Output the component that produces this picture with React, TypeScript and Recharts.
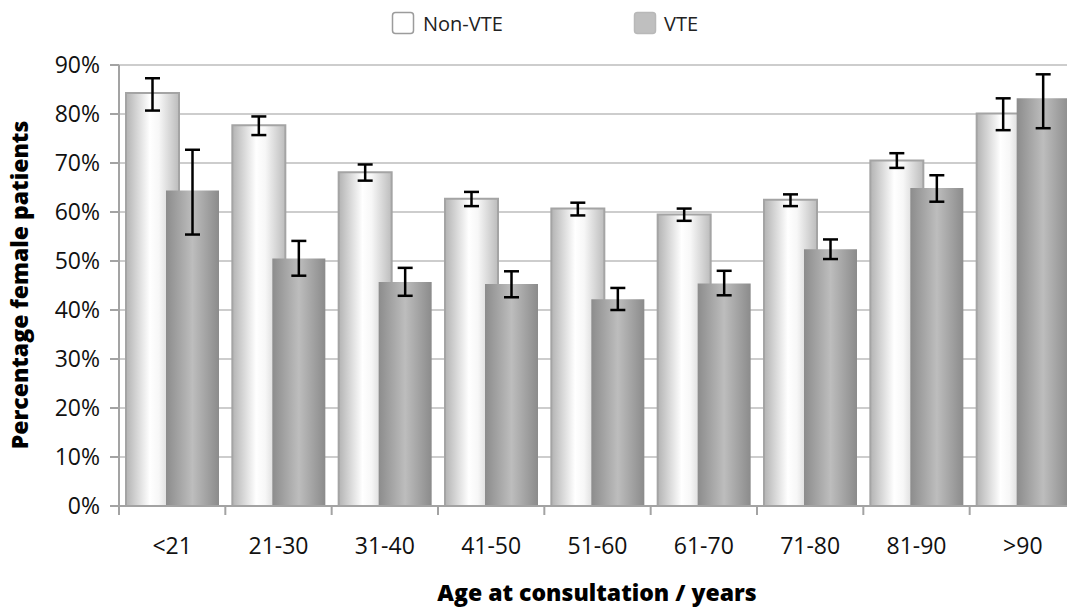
import React from 'react';
import { BarChart, Bar, XAxis, YAxis, CartesianGrid, ErrorBar } from 'recharts';

const ageGroups = ['<21', '21-30', '31-40', '41-50', '51-60', '61-70', '71-80', '81-90', '>90'];

// percentage female, with lower / upper ends of the error bars
const nonVte = [84.3, 77.7, 68.1, 62.7, 60.7, 59.5, 62.5, 70.5, 80.1];
const nonVteLow = [80.7, 75.7, 66.4, 61.2, 59.3, 58.2, 61.2, 69.0, 76.7];
const nonVteHigh = [87.3, 79.5, 69.7, 64.1, 61.9, 60.7, 63.6, 72.0, 83.2];

const vte = [64.4, 50.5, 45.7, 45.3, 42.2, 45.4, 52.4, 64.9, 83.2];
const vteLow = [55.4, 47.0, 42.9, 42.6, 40.0, 43.0, 50.4, 62.1, 77.1];
const vteHigh = [72.7, 54.1, 48.6, 47.9, 44.5, 48.0, 54.4, 67.5, 88.1];

const yTicks = [0, 10, 20, 30, 40, 50, 60, 70, 80, 90];

const data = ageGroups.map((age, i) => ({
  age,
  nonVte: nonVte[i],
  nonVteErr: [nonVte[i] - nonVteLow[i], nonVteHigh[i] - nonVte[i]],
  vte: vte[i],
  vteErr: [vte[i] - vteLow[i], vteHigh[i] - vte[i]],
}));

const CHART_W = 1076;
const CHART_H = 608;
const PLOT_LEFT = 119;
const PLOT_TOP = 65;
const AXIS_Y = 506;
const BAND = (CHART_W - PLOT_LEFT) / ageGroups.length;
const FONT = '"Open Sans", "Noto Sans", sans-serif';
const AXIS_GREY = '#a3a3a3';

function AgeTick(props: any) {
  const { x, payload, index } = props;
  const left = x - BAND / 2;
  return (
    <g>
      <line x1={left} y1={AXIS_Y} x2={left} y2={AXIS_Y + 9} stroke={AXIS_GREY} strokeWidth={2} />
      {index === ageGroups.length - 1 && (
        <line x1={x + BAND / 2} y1={AXIS_Y} x2={x + BAND / 2} y2={AXIS_Y + 9} stroke={AXIS_GREY} strokeWidth={2} />
      )}
      <text x={x} y={AXIS_Y + 48} textAnchor="middle" fontSize={23} fontFamily={FONT} fill="#111">
        {payload.value}
      </text>
    </g>
  );
}

export default function App() {
  return (
    <div
      style={{
        position: 'fixed',
        left: 0,
        top: 0,
        width: 1067,
        height: 608,
        overflow: 'hidden',
        background: '#fff',
      }}
    >
      <BarChart
        width={CHART_W}
        height={CHART_H}
        data={data}
        margin={{ top: PLOT_TOP, right: 0, bottom: 0, left: 0 }}
        barGap={-13}
        barSize={53}
      >
        <defs>
          <linearGradient id="gradNonVte" x1="0" y1="0" x2="1" y2="0">
            <stop offset="0%" stopColor="#b3b3b3" />
            <stop offset="45%" stopColor="#ffffff" />
            <stop offset="62%" stopColor="#f7f7f7" />
            <stop offset="100%" stopColor="#bcbcbc" />
          </linearGradient>
          <linearGradient id="gradVte" x1="0" y1="0" x2="1" y2="0">
            <stop offset="0%" stopColor="#8c8c8c" />
            <stop offset="50%" stopColor="#bdbdbd" />
            <stop offset="100%" stopColor="#8b8b8b" />
          </linearGradient>
        </defs>
        <CartesianGrid vertical={false} stroke="#cdcdcd" strokeWidth={2} />
        <XAxis
          dataKey="age"
          height={CHART_H - AXIS_Y}
          axisLine={{ stroke: AXIS_GREY, strokeWidth: 2 }}
          tickLine={false}
          tick={<AgeTick />}
          interval={0}
        />
        <YAxis
          width={PLOT_LEFT}
          domain={[0, 90]}
          ticks={yTicks}
          interval={0}
          tickFormatter={(v: number) => `${v}%`}
          axisLine={{ stroke: AXIS_GREY, strokeWidth: 2 }}
          tickLine={{ stroke: AXIS_GREY, strokeWidth: 2 }}
          tickSize={9}
          tickMargin={10}
          tick={{ fontSize: 23, fontFamily: FONT, fill: '#111' }}
        />
        <Bar dataKey="nonVte" fill="url(#gradNonVte)" stroke="#a4a4a4" strokeWidth={2} isAnimationActive={false}>
          <ErrorBar dataKey="nonVteErr" width={7.5} strokeWidth={2.5} stroke="#000" isAnimationActive={false} />
        </Bar>
        <Bar dataKey="vte" fill="url(#gradVte)" isAnimationActive={false}>
          <ErrorBar dataKey="vteErr" width={7.5} strokeWidth={2.5} stroke="#000" isAnimationActive={false} />
        </Bar>
      </BarChart>

      <svg
        width={1067}
        height={608}
        style={{ position: 'absolute', left: 0, top: 0, pointerEvents: 'none' }}
      >
        <rect x={392.5} y={12.5} width={21} height={21} rx={3} fill="#fff" stroke="#9c9c9c" strokeWidth={1.5} />
        <text x={423} y={31} fontSize={20} fontFamily={FONT} fill="#222">
          Non-VTE
        </text>
        <rect x={634.5} y={12.5} width={21} height={21} rx={3} fill="#bfbfbf" stroke="#b8b8b8" strokeWidth={1.5} />
        <text x={664} y={31} fontSize={20} fontFamily={FONT} fill="#222">
          VTE
        </text>

        <text
          x={28}
          y={285}
          transform="rotate(-90 28 285)"
          textAnchor="middle"
          fontSize={23}
          fontWeight={800}
          fontFamily={FONT}
          fill="#000"
        >
          Percentage female patients
        </text>
        <text x={597} y={601} textAnchor="middle" fontSize={23} fontWeight={800} fontFamily={FONT} fill="#000">
          Age at consultation / years
        </text>
      </svg>
    </div>
  );
}
